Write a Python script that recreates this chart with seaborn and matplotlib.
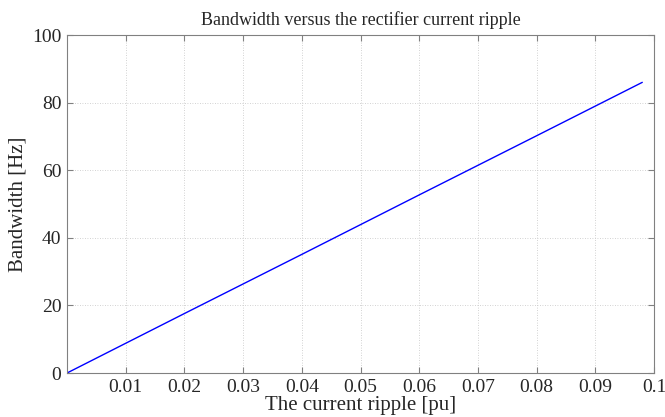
"""Bandwidth vs rectifier current ripple, MATLAB-style line plot."""
import matplotlib
matplotlib.use("Agg")
import matplotlib.pyplot as plt
import pandas as pd
import seaborn as sns

ripple_pu = [0.0, 0.02, 0.04, 0.06, 0.08, 0.098]
bandwidth_hz = [0.0, 17.6, 35.1, 52.7, 70.2, 86.0]
x_ticks = [0.01, 0.02, 0.03, 0.04, 0.05, 0.06, 0.07, 0.08, 0.09, 0.1]
x_tick_labels = ["0.01", "0.02", "0.03", "0.04", "0.05", "0.06", "0.07", "0.08", "0.09", "0.1"]
y_ticks = [0, 20, 40, 60, 80, 100]

sns.set_style("ticks")
plt.rcParams["font.family"] = ["Liberation Serif", "DejaVu Serif"]

df = pd.DataFrame({"ripple": ripple_pu, "bw": bandwidth_hz})

fig = plt.figure(figsize=(6.65, 4.17), dpi=100)
ax = fig.add_axes([0.1008, 0.1055, 0.8827, 0.8105])
sns.lineplot(data=df, x="ripple", y="bw", color="#0000ff", linewidth=1.0, ax=ax)

ax.set_xlim(0, 0.1)
ax.set_ylim(0, 100)
ax.set_xticks(x_ticks)
ax.set_xticklabels(x_tick_labels)
ax.set_yticks(y_ticks)
ax.grid(True, linestyle=(0, (1, 2)), color="#c4c4c4", linewidth=0.6)
for s in ax.spines.values():
    s.set_visible(True)
    s.set_color("#808080")
    s.set_linewidth(0.8)
ax.tick_params(direction="in", top=True, right=True, length=4, color="#808080",
               labelsize=14, pad=4)
ax.set_xlabel("The current ripple [pu]", fontsize=15, labelpad=0)
ax.set_ylabel("Bandwidth [Hz]", fontsize=15, labelpad=3)
ax.set_title("Bandwidth versus the rectifier current ripple", fontsize=13, pad=7)

fig.savefig("out.png", dpi=100)
